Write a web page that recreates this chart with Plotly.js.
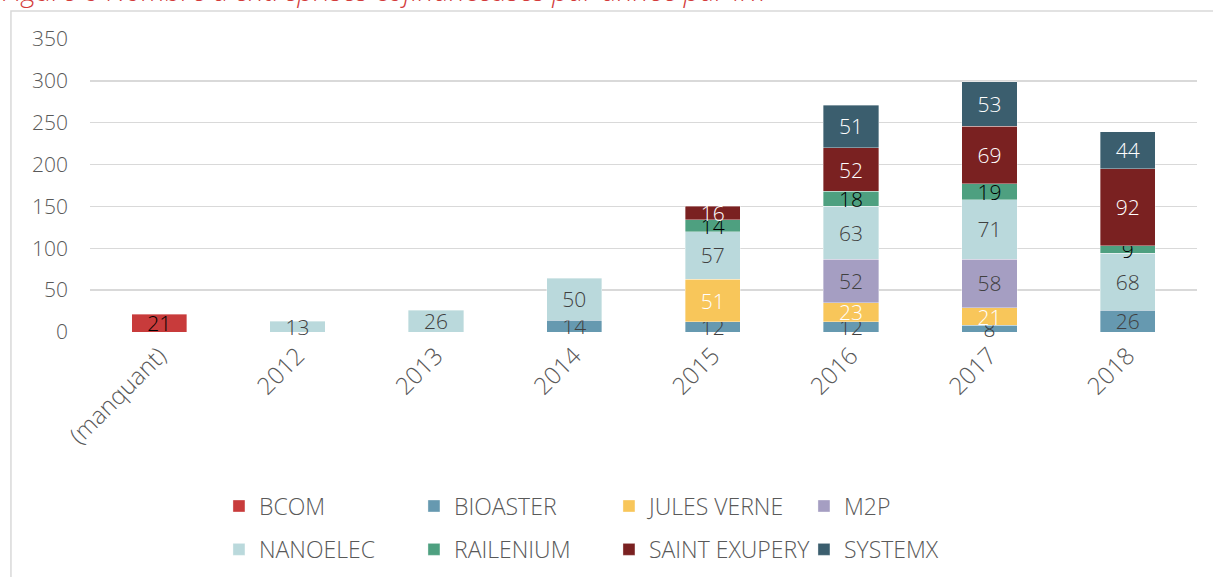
<!DOCTYPE html>
<html>
<head>
<meta charset="utf-8">
<script src="https://cdn.plot.ly/plotly-3.0.1.min.js"></script>
<style>html,body{margin:0;padding:0;background:#fff;}#chart{width:1213px;height:577px;}</style>
</head>
<body>
<div id="chart"></div>
<script>
const categories = ['(manquant)', '2012', '2013', '2014', '2015', '2016', '2017', '2018'];
const seriesNames = ['BCOM', 'BIOASTER', 'JULES VERNE', 'M2P', 'NANOELEC', 'RAILENIUM', 'SAINT EXUPERY', 'SYSTEMX'];
const BCOM = [21, null, null, null, null, null, null, null];
const BIOASTER = [null, null, null, 14, 12, 12, 8, 26];
const JULES_VERNE = [null, null, null, null, 51, 23, 21, null];
const M2P = [null, null, null, null, null, 52, 58, null];
const NANOELEC = [null, 13, 26, 50, 57, 63, 71, 68];
const RAILENIUM = [null, null, null, null, 14, 18, 19, 9];
const SAINT_EXUPERY = [null, null, null, null, 16, 52, 69, 92];
const SYSTEMX = [null, null, null, null, null, 51, 53, 44];
const yTicks = [0, 50, 100, 150, 200, 250, 300, 350];

const seriesValues = [BCOM, BIOASTER, JULES_VERNE, M2P, NANOELEC, RAILENIUM, SAINT_EXUPERY, SYSTEMX];
const colors = ['#C83B3B', '#6699B0', '#F8C65A', '#A59EC2', '#BAD9DC', '#4EA080', '#7A2121', '#3B5E6E'];
const textColors = ['#000000', '#404040', '#FFFFFF', '#404040', '#404040', '#000000', '#FFFFFF', '#FFFFFF'];
const FONT = 'Open Sans, Lato, sans-serif';

const traces = seriesNames.map((name, i) => ({
  type: 'bar',
  name: name,
  x: categories,
  y: seriesValues[i],
  marker: {color: colors[i], line: {color: 'rgba(255,255,255,0.6)', width: 0.6}},
  text: seriesValues[i].map(v => v === null ? '' : String(v)),
  textposition: 'inside',
  insidetextanchor: 'middle',
  textangle: 0,
  cliponaxis: false,
  insidetextfont: {family: FONT, size: 21, weight: 300, color: textColors[i]},
  hoverinfo: 'skip',
  legend: i < 4 ? 'legend' : 'legend2'
}));

const legendCommon = {
  orientation: 'h',
  xanchor: 'left',
  yanchor: 'middle',
  x: 0.1165,
  font: {family: FONT, size: 23, weight: 300, color: '#595959'},
  entrywidth: 150,
  entrywidthmode: 'pixels',
  bgcolor: 'rgba(0,0,0,0)',
  traceorder: 'normal'
};

const layout = {
  width: 1213,
  height: 577,
  margin: {l: 90, r: 16, t: 39, b: 245, autoexpand: false},
  paper_bgcolor: '#ffffff',
  plot_bgcolor: '#ffffff',
  barmode: 'stack',
  bargap: 0.6,
  showlegend: true,
  uniformtext: {mode: 'show', minsize: 21},
  font: {family: FONT, color: '#595959'},
  xaxis: {
    type: 'category',
    tickangle: -45,
    tickfont: {family: FONT, size: 24, weight: 300, color: '#595959'},
    showgrid: false,
    showline: false,
    zeroline: false,
    ticks: '',
    ticklabelstandoff: 4,
    automargin: false
  },
  yaxis: {
    range: [0, 350],
    tickvals: yTicks,
    ticktext: yTicks.map(String),
    tickfont: {family: FONT, size: 21, weight: 300, color: '#595959'},
    gridcolor: '#D9D9D9',
    gridwidth: 1.5,
    showline: false,
    zeroline: false,
    ticks: '',
    ticklabelstandoff: 21,
    automargin: false
  },
  legend: Object.assign({}, legendCommon, {y: -0.594}),
  legend2: Object.assign({}, legendCommon, {y: -0.742}),
  shapes: [{
    type: 'rect', xref: 'paper', yref: 'paper',
    x0: -0.0714, x1: 1.03, y0: -0.9, y1: 1.0956,
    line: {color: '#D9D9D9', width: 1.5}, fillcolor: 'rgba(0,0,0,0)', layer: 'below'
  }],
  annotations: [{
    xref: 'paper', yref: 'paper',
    x: -0.081, y: 1.097, xanchor: 'left', yanchor: 'bottom',
    text: "<i>Figure 6 Nombre d'entreprises cofinanceuses par année par IRT</i>",
    showarrow: false,
    font: {family: FONT, size: 28, weight: 300, color: '#D33B3B'}
  }]
};

Plotly.newPlot('chart', traces, layout, {displayModeBar: false, staticPlot: true});
</script>
</body>
</html>
